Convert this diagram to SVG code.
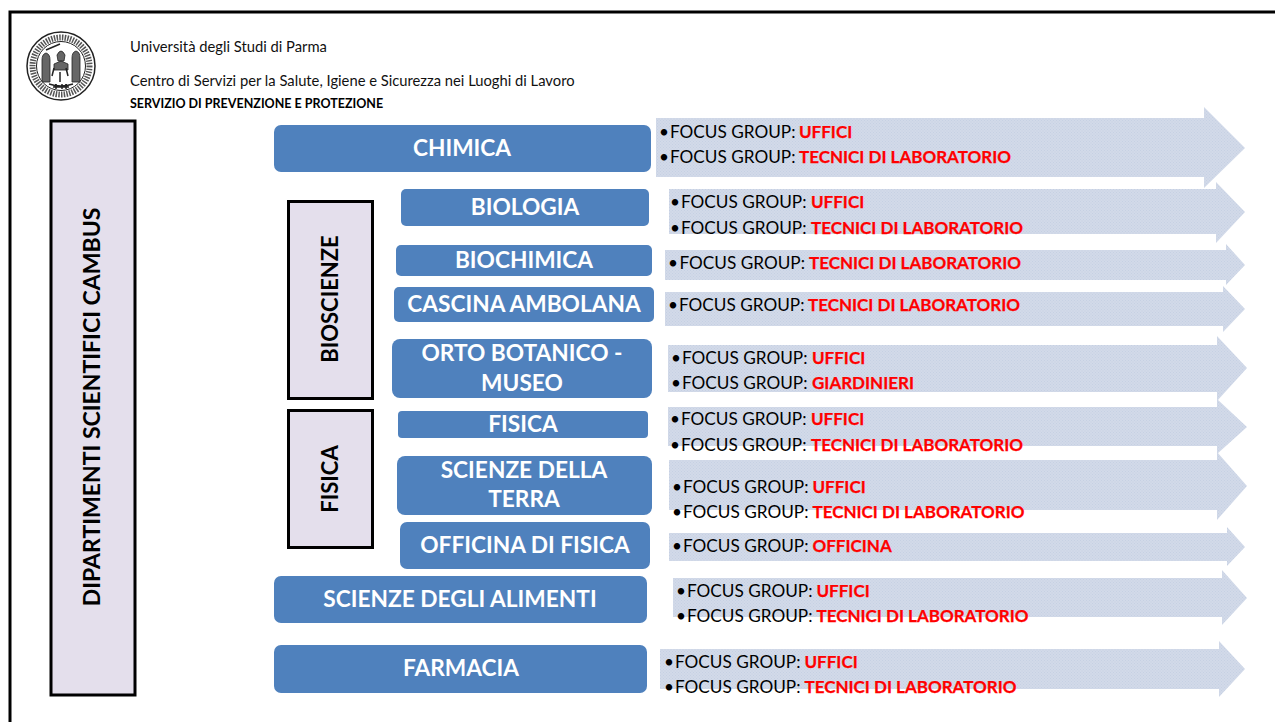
<svg xmlns="http://www.w3.org/2000/svg" width="1275" height="722" viewBox="0 0 1275 722">
<style>
text{font-family:"Lato","Liberation Sans",sans-serif}
.h{font-size:14.75px;fill:#111}
.b{fill:#4f81bd}
.n{font-size:22.7px;font-weight:700;fill:#fff;text-anchor:middle}
.g{fill:#e4dfec;stroke:#000;stroke-width:3}
.v{font-size:22px;font-weight:700;fill:#000;text-anchor:middle}
.a{fill:url(#dots)}
.f{font-size:17.2px;fill:#000}
.r{font-size:17px;font-weight:700;fill:#f00;stroke:#f00;stroke-width:.25}
</style>
<defs>
<pattern id="dots" width="3" height="3" patternUnits="userSpaceOnUse"><rect width="3" height="3" fill="#d2dae9"/><rect width="1" height="1" fill="#c6d0e3"/><rect x="1.500" y="1.500" width="1" height="1" fill="#c6d0e3"/></pattern>
</defs>
<rect x="-5" y="12" width="1290" height="720" fill="#fff"/>
<path d="M10 722V12H1275" fill="none" stroke="#000" stroke-width="3"/>
<g id="logo" fill="none" stroke="#222">
<circle cx="61" cy="66" r="34" stroke-width="1.500" fill="#fff"/>
<circle cx="61" cy="66" r="28.500" stroke-width="6" stroke-dasharray="1.500 1.200" stroke="#555"/>
<circle cx="61" cy="66" r="24.500" stroke-width="1"/>
<path d="M42 82V60q0-6 4-7 4 1 4 7v22zM72 82V58q0-6 4-7 4 1 4 7v24zM54 64l7-3 7 3v6H54zM57 55q4-8 8 0l-1 6h-6z" fill="#666" stroke="#222" stroke-width=".8"/>
<path d="M46 50l14-6M52 76l2-8M60 82v-10M68 76l-2-8M49 84q12 4 24 0M53 87h16M56 84v5M62 84v5M66 84v5" stroke-width="1.500"/>
</g>
<g id="header">
<text class="h" x="130" y="52">Università degli Studi di Parma</text>
<text class="h" x="130" y="86">Centro di Servizi per la Salute, Igiene e Sicurezza nei Luoghi di Lavoro</text>
<text x="130" y="108" style="font-size:12.5px;font-weight:700">SERVIZIO DI PREVENZIONE E PROTEZIONE</text>
</g>
<g id="dipartimenti"><rect class="g" x="51" y="121" width="84" height="574"/><text class="v" style="font-size:23px" transform="translate(100 407) rotate(-90)">DIPARTIMENTI SCIENTIFICI CAMBUS</text></g>
<g id="bioscienze"><rect class="g" x="288.500" y="201.500" width="84" height="197"/><text class="v" transform="translate(338 299) rotate(-90)">BIOSCIENZE</text></g>
<g id="fisica-gruppo"><rect class="g" x="288.500" y="410.500" width="84" height="137"/><text class="v" transform="translate(338 479) rotate(-90)">FISICA</text></g>
<g id="chimica"><rect class="b" x="274" y="125" width="377" height="47" rx="7"/><text class="n" x="462" y="156">CHIMICA</text></g>
<g id="biologia"><rect class="b" x="401" y="189" width="248" height="37" rx="5"/><text class="n" x="525" y="215">BIOLOGIA</text></g>
<g id="biochimica"><rect class="b" x="396" y="245" width="256" height="31" rx="5"/><text class="n" x="524" y="268">BIOCHIMICA</text></g>
<g id="cascina"><rect class="b" x="394" y="287" width="260" height="35" rx="5"/><text class="n" x="524" y="312">CASCINA AMBOLANA</text></g>
<g id="orto"><rect class="b" x="392" y="339" width="260" height="59" rx="8"/><text class="n" x="522" y="361">ORTO BOTANICO -</text><text class="n" x="522" y="391">MUSEO</text></g>
<g id="fisica"><rect class="b" x="398" y="411" width="250" height="27" rx="4"/><text class="n" x="523" y="432">FISICA</text></g>
<g id="terra"><rect class="b" x="397" y="456" width="255" height="59" rx="8"/><text class="n" x="524" y="478">SCIENZE DELLA</text><text class="n" x="524" y="507">TERRA</text></g>
<g id="officina"><rect class="b" x="400" y="522" width="250" height="47" rx="7"/><text class="n" x="525" y="553">OFFICINA DI FISICA</text></g>
<g id="alimenti"><rect class="b" x="274" y="576" width="373" height="47" rx="7"/><text class="n" x="460" y="607">SCIENZE DEGLI ALIMENTI</text></g>
<g id="farmacia"><rect class="b" x="274" y="645" width="373" height="48" rx="7"/><text class="n" x="461" y="676">FARMACIA</text></g>
<g id="connectors">
<path class="a" d="M656 118H1204V107L1245 148L1204 188V177H656z"/>
<path class="a" d="M669 189H1216V182L1245 212L1216 243V234H669z"/>
<path class="a" d="M665 250H1226V244L1245 265L1226 285V280H665z"/>
<path class="a" d="M665 292H1223V286L1245 309L1223 332V326H665z"/>
<path class="a" d="M668 345H1217V336L1247 368L1217 401V392H668z"/>
<path class="a" d="M668 407H1217V399L1247 427L1217 454V446H668z"/>
<path class="a" d="M669 460H1217V452L1247 486L1217 520V510H669z"/>
<path class="a" d="M669 533H1227V527L1245 547L1227 566V561H669z"/>
<path class="a" d="M673 578H1222V570L1247 598L1222 625V617H673z"/>
<path class="a" d="M660 649H1219V641L1245 669L1219 697V689H660z"/>
</g>
<g id="labels">
<text class="f" y="138"><tspan x="659">•</tspan><tspan x="670">FOCUS GROUP:</tspan><tspan class="r" x="799">UFFICI</tspan></text>
<text class="f" y="163"><tspan x="659">•</tspan><tspan x="670">FOCUS GROUP:</tspan><tspan class="r" x="799">TECNICI DI LABORATORIO</tspan></text>
<text class="f" y="208"><tspan x="670">•</tspan><tspan x="681">FOCUS GROUP:</tspan><tspan class="r" x="811">UFFICI</tspan></text>
<text class="f" y="234"><tspan x="670">•</tspan><tspan x="681">FOCUS GROUP:</tspan><tspan class="r" x="811">TECNICI DI LABORATORIO</tspan></text>
<text class="f" y="269"><tspan x="668">•</tspan><tspan x="679.500">FOCUS GROUP:</tspan><tspan class="r" x="809">TECNICI DI LABORATORIO</tspan></text>
<text class="f" y="311"><tspan x="668">•</tspan><tspan x="679">FOCUS GROUP:</tspan><tspan class="r" x="808">TECNICI DI LABORATORIO</tspan></text>
<text class="f" y="364"><tspan x="671">•</tspan><tspan x="682">FOCUS GROUP:</tspan><tspan class="r" x="812">UFFICI</tspan></text>
<text class="f" y="389"><tspan x="671">•</tspan><tspan x="682">FOCUS GROUP:</tspan><tspan class="r" x="812">GIARDINIERI</tspan></text>
<text class="f" y="425"><tspan x="670">•</tspan><tspan x="681">FOCUS GROUP:</tspan><tspan class="r" x="811">UFFICI</tspan></text>
<text class="f" y="451"><tspan x="670">•</tspan><tspan x="681">FOCUS GROUP:</tspan><tspan class="r" x="811">TECNICI DI LABORATORIO</tspan></text>
<text class="f" y="493"><tspan x="672">•</tspan><tspan x="683">FOCUS GROUP:</tspan><tspan class="r" x="812.500">UFFICI</tspan></text>
<text class="f" y="518"><tspan x="672">•</tspan><tspan x="683">FOCUS GROUP:</tspan><tspan class="r" x="812.500">TECNICI DI LABORATORIO</tspan></text>
<text class="f" y="552"><tspan x="672">•</tspan><tspan x="683">FOCUS GROUP:</tspan><tspan class="r" x="812.500">OFFICINA</tspan></text>
<text class="f" y="597"><tspan x="676">•</tspan><tspan x="687">FOCUS GROUP:</tspan><tspan class="r" x="816.500">UFFICI</tspan></text>
<text class="f" y="622"><tspan x="676">•</tspan><tspan x="687">FOCUS GROUP:</tspan><tspan class="r" x="816.500">TECNICI DI LABORATORIO</tspan></text>
<text class="f" y="668"><tspan x="664">•</tspan><tspan x="675">FOCUS GROUP:</tspan><tspan class="r" x="804.500">UFFICI</tspan></text>
<text class="f" y="693"><tspan x="664">•</tspan><tspan x="675">FOCUS GROUP:</tspan><tspan class="r" x="804.500">TECNICI DI LABORATORIO</tspan></text>
</g>
</svg>
